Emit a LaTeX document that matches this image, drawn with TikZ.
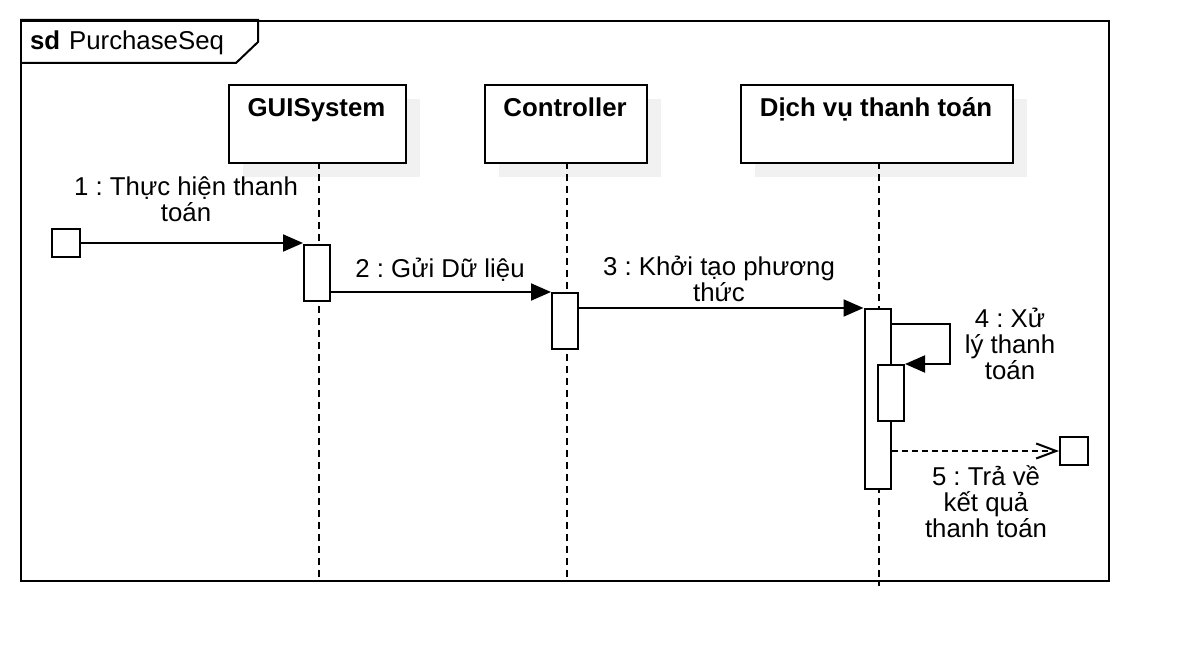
\documentclass[tikz,border=0pt]{standalone}
\usepackage{fontspec}
\setmainfont{Liberation Sans}
\usetikzlibrary{arrows.meta}
\definecolor{shade}{RGB}{241,241,241}
\frenchspacing
\begin{document}
\begin{tikzpicture}[x=1pt,y=-1pt,
  font=\fontsize{25.8}{26}\selectfont,
  line width=2pt,
  head/.style={draw, fill=white, rectangle, inner sep=0pt, anchor=north west},
  shadowbox/.style={fill=shade, draw=none, rectangle, inner sep=0pt, anchor=north west},
  act/.style={draw, fill=white, rectangle, inner sep=0pt, minimum width=26pt},
  gate/.style={draw, fill=white, rectangle, inner sep=0pt, minimum width=28pt, minimum height=28pt},
  life/.style={line width=2pt, dash pattern=on 6.5pt off 5.5pt},
  msg/.style={-{Triangle[length=20pt,width=17pt]}},
  reply/.style={dash pattern=on 6pt off 4pt, -{Straight Barb[length=20pt,width=15pt,line width=2pt]}},
  txt/.style={align=center, inner sep=0pt},
  headtxt/.style={inner sep=0pt, anchor=base, font=\fontsize{25.8}{26}\selectfont\bfseries}
]
\useasboundingbox (0,0) rectangle (1188,666);
% frame
\node[draw, rectangle, inner sep=0pt, minimum width=1088pt, minimum height=560pt, anchor=north west] (frame) at (20,20) {};
\draw (frame.north west) -- (258,20) -- (258,42) -- (236,63) -- (frame.west |- 0,63);
\node[anchor=base west, inner sep=0pt] (title) at (29,50) {\textbf{sd}\hspace{9pt}PurchaseSeq};
% shadows
\node[shadowbox, minimum width=177pt, minimum height=78pt] (guiS) at (242,98) {};
\node[shadowbox, minimum width=162pt, minimum height=78pt] (ctlS) at (498,98) {};
\node[shadowbox, minimum width=272pt, minimum height=78pt] (payS) at (754,98) {};
% heads
\node[head, minimum width=177pt, minimum height=78pt] (gui) at (228,84) {};
\node[head, minimum width=162pt, minimum height=78pt] (ctl) at (484,84) {};
\node[head, minimum width=272pt, minimum height=78pt] (pay) at (740,84) {};
\node[headtxt] (guiT) at (316.5,117) {GUISystem};
\node[headtxt] (ctlT) at (565,117) {Controller};
\node[headtxt] (payT) at (876,117) {Dịch vụ thanh toán};
% lifelines
\coordinate (guiTop) at (319,162);
\coordinate (ctlTop) at (567,162);
\coordinate (payTop) at (879,162);
\coordinate (guiE) at (319,580);
\coordinate (ctlE) at (567,580);
\coordinate (payE) at (879,586);
\draw[life] (guiTop) -- (guiE);
\draw[life] (ctlTop) -- (ctlE);
\draw[life] (payTop) -- (payE);
% activations
\node[act, minimum height=56pt, anchor=north] (a1) at (317,244) {};
\node[act, minimum height=56pt, anchor=north] (a2) at (565,292) {};
\node[act, minimum height=180pt, anchor=north] (a3) at (877.5,308) {};
\node[act, minimum height=56pt, anchor=north] (a4) at (891,364) {};
% gates
\node[gate] (found) at (66,243) {};
\node[gate] (lost) at (1074,451) {};
% messages
\draw[msg] (found.east) -- (found.east -| a1.west);
\draw[msg] (a1.east |- a2.north) -- (a2.north west);
\draw[msg] (a2.east |- a3.north) -- (a3.north west);
\coordinate (selfA) at (950,324);
\coordinate (selfB) at (950,364);
\draw[msg] (a3.east |- selfA) -- (selfA) -- (selfB) -- (a4.north east);
\draw[reply] (a3.east |- lost.west) -- (lost.west);
% labels
\node[txt] (l1) at (186,199) {1 : Thực hiện thanh\\toán};
\node[txt] (l2) at (440,270) {2 : Gửi Dữ liệu};
\node[txt] (l3) at (719,279) {3 : Khởi tạo phương\\thức};
\node[txt] (l4) at (1010,344) {4 : Xử\\lý thanh\\toán};
\node[txt] (l5) at (986,502) {5 : Trả về\\kết quả\\thanh toán};
\end{tikzpicture}
\end{document}
